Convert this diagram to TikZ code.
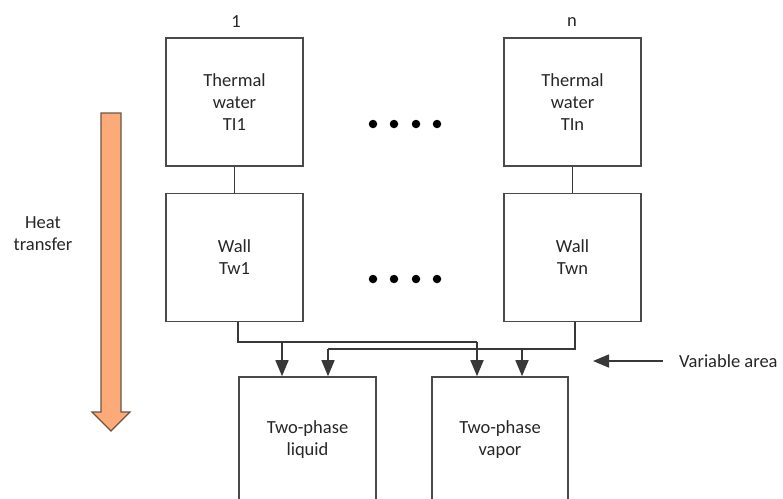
\documentclass[tikz,border=0pt]{standalone}
\usepackage{fontspec}
\setmainfont{Carlito}
\usetikzlibrary{arrows.meta}
\definecolor{boxgray}{HTML}{4A4A4A}
\definecolor{linegray}{HTML}{383838}
\definecolor{orangefill}{HTML}{FBAA78}
\definecolor{orangedraw}{HTML}{6B5444}
\begin{document}
\begin{tikzpicture}[x=1pt,y=-1pt,
  box/.style={draw=boxgray,line width=1.6pt,minimum width=137pt,minimum height=128pt,inner sep=0pt,align=center,font=\fontsize{18.5}{22}\selectfont,text=black!85},
  lbl/.style={font=\fontsize{18.5}{22}\selectfont,inner sep=0pt,align=center,text=black!85},
  conn/.style={draw=linegray,line width=1.6pt},
  arr/.style={conn,-{Triangle[length=16pt,width=13pt]}},
  dotmark/.style={circle,fill=black,inner sep=0pt,minimum size=8.5pt}]
\useasboundingbox (0,0) rectangle (783,498);
\clip (0,0) rectangle (783,498);
% boxes
\node[box] (th1) at (234.5,102) {Thermal\\water\\TI1};
\node[box] (thn) at (572.5,102) {Thermal\\water\\TIn};
\node[box] (w1) at (234.5,257.5) {Wall\\Tw1};
\node[box] (wn) at (572.5,257.5) {Wall\\Twn};
\node[box,minimum height=126pt] (liq) at (307.5,440) {Two-phase\\liquid};
\node[box,minimum height=126pt,minimum width=136pt] (vap) at (500,440) {Two-phase\\vapor};
% labels
\node[lbl] (l1) at (236,22) {1};
\node[lbl] (ln) at (572,22) {n};
\node[lbl] (heat) at (43,234) {Heat\\transfer};
\node[lbl,anchor=west] (var) at (679,361) {Variable area};
% dots
\foreach \i/\x in {1/373,2/394,3/416,4/437}{
  \node[dotmark] (da\i) at (\x,124) {};
  \node[dotmark] (db\i) at (\x,279) {};
}
% vertical links
\draw[conn] (th1.south) -- (w1.north);
\draw[conn] (thn.south) -- (wn.north);
% connectors from wall 1
\coordinate (w1out) at ([xshift=3.5pt]w1.south);
\coordinate (j1) at (477,342);
\coordinate (j1a) at (282,342);
\draw[conn] (w1out) |- (j1);
\draw[arr] (j1a) -- (j1a |- liq.north);
\draw[arr] (j1) -- (j1 |- vap.north);
% connectors from wall n
\coordinate (wnout) at ([xshift=2.5pt]wn.south);
\coordinate (j2) at (328,349);
\coordinate (j2a) at (522,349);
\draw[conn] (wnout) |- (j2);
\draw[arr] (j2) -- (j2 |- liq.north);
\draw[arr] (j2a) -- (j2a |- vap.north);
% variable area arrow
\coordinate (vs) at (663,361);
\coordinate (ve) at (593,361);
\draw[arr] (vs) -- (ve);
% heat transfer arrow
\draw[fill=orangefill,draw=orangedraw,line width=1.1pt,line join=miter]
  (101,113) -- (121,113) -- (121,412) -- (130,412) -- (111,431) -- (92,412) -- (101,412) -- cycle;
\end{tikzpicture}
\end{document}
